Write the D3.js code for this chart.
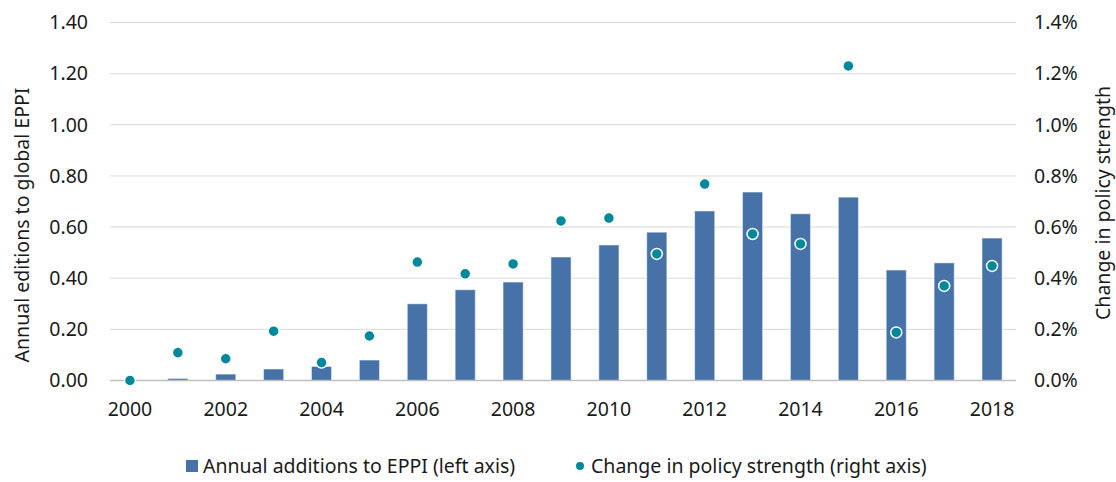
<!DOCTYPE html>
<html>
<head>
<meta charset="utf-8">
<script src="https://cdn.jsdelivr.net/npm/d3@7"></script>
<style>
  body { margin: 0; background: #fff; }
  text { font-family: "Noto Sans", "Open Sans", sans-serif; fill: #1a1a1a; }
</style>
</head>
<body>
<div id="chart"></div>
<script>
// data
var years = d3.range(2000, 2019);
var additions = [0, 0.008, 0.025, 0.045, 0.055, 0.08, 0.30, 0.355, 0.385, 0.483, 0.53, 0.58, 0.663, 0.737, 0.652, 0.717, 0.432, 0.46, 0.557];
var strength = [0.0, 0.109, 0.085, 0.193, 0.07, 0.174, 0.463, 0.417, 0.456, 0.624, 0.635, 0.495, 0.768, 0.573, 0.534, 1.23, 0.188, 0.37, 0.448];
var leftTicks = [0, 0.2, 0.4, 0.6, 0.8, 1.0, 1.2, 1.4];
var rightTicks = [0, 0.2, 0.4, 0.6, 0.8, 1.0, 1.2, 1.4];
var labelYears = [2000, 2002, 2004, 2006, 2008, 2010, 2012, 2014, 2016, 2018];

var W = 1116, H = 482;
var fs = "19.5px";
var margin = { top: 22.5, right: 100, bottom: 101.5, left: 106 },
    width = W - margin.left - margin.right,
    height = H - margin.top - margin.bottom;

var svg = d3.select("#chart")
    .append("svg")
    .attr("width", W)
    .attr("height", H);

var g = svg.append("g")
    .attr("transform", `translate(${margin.left},${margin.top})`);

var x = d3.scaleBand()
    .domain(years)
    .range([0, width])
    .paddingInner(0.58)
    .paddingOuter(0.29);

var y = d3.scaleLinear().domain([0, 1.4]).range([height, 0]);
var y2 = d3.scaleLinear().domain([0, 1.4]).range([height, 0]);

// gridlines
g.append("g")
    .selectAll("line")
    .data(leftTicks.slice(1))
    .enter()
    .append("line")
    .attr("x1", 4)
    .attr("x2", width)
    .attr("y1", function (d) { return y(d); })
    .attr("y2", function (d) { return y(d); })
    .attr("stroke", "#d9d9d9")
    .attr("stroke-width", 1);

// left axis
var yAxis = g.append("g")
    .call(d3.axisLeft(y).tickValues(leftTicks).tickSize(0).tickPadding(18)
        .tickFormat(d3.format(".2f")));
yAxis.select(".domain").remove();
yAxis.selectAll("text").style("font-size", fs).attr("fill", "#1a1a1a");

// right axis
var yAxis2 = g.append("g")
    .attr("transform", `translate(${width},0)`)
    .call(d3.axisRight(y2).tickValues(rightTicks).tickSize(0).tickPadding(18)
        .tickFormat(function (d) { return d.toFixed(1) + "%"; }));
yAxis2.select(".domain").remove();
yAxis2.selectAll("text").style("font-size", fs).attr("fill", "#1a1a1a");

// bars
g.append("g")
    .selectAll("rect")
    .data(years)
    .enter()
    .append("rect")
    .attr("x", function (d) { return x(d); })
    .attr("width", x.bandwidth())
    .attr("y", function (d, i) { return y(additions[i]); })
    .attr("height", function (d, i) { return height - y(additions[i]); })
    .attr("fill", "#4672a8")
    .attr("stroke", "#ffffff")
    .attr("stroke-opacity", 0.5)
    .attr("stroke-width", 1);

// x axis line
g.append("line")
    .attr("x1", 4)
    .attr("x2", width)
    .attr("y1", height)
    .attr("y2", height)
    .attr("stroke", "#bfbfbf")
    .attr("stroke-width", 1.5);

// x labels
g.append("g")
    .selectAll("text")
    .data(labelYears)
    .enter()
    .append("text")
    .attr("x", function (d) { return x(d) + x.bandwidth() / 2; })
    .attr("y", height + 35)
    .attr("text-anchor", "middle")
    .style("font-size", fs)
    .text(function (d) { return d; });

// dots
g.append("g")
    .selectAll("circle")
    .data(years)
    .enter()
    .append("circle")
    .attr("cx", function (d) { return x(d) + x.bandwidth() / 2; })
    .attr("cy", function (d, i) { return y2(strength[i]); })
    .attr("r", 5.5)
    .attr("fill", "#00889b")
    .attr("stroke", "#ffffff")
    .attr("stroke-width", 1.5);

// axis titles
svg.append("text")
    .attr("transform", "translate(22,225) rotate(-90)")
    .attr("text-anchor", "middle")
    .attr("dy", "0.35em")
    .style("font-size", fs)
    .text("Annual editions to global EPPI");

svg.append("text")
    .attr("transform", "translate(1103,203) rotate(-90)")
    .attr("text-anchor", "middle")
    .attr("dy", "0.35em")
    .style("font-size", fs)
    .text("Change in policy strength");

// legend
var leg = svg.append("g").attr("transform", "translate(0,466)");
leg.append("rect")
    .attr("x", 186).attr("y", -6).attr("width", 12).attr("height", 12)
    .attr("fill", "#4672a8");
leg.append("text")
    .attr("x", 203).attr("dy", "0.35em")
    .style("font-size", fs)
    .text("Annual additions to EPPI (left axis)");
leg.append("circle")
    .attr("cx", 580).attr("cy", 0).attr("r", 4)
    .attr("fill", "#00889b");
leg.append("text")
    .attr("x", 591).attr("dy", "0.35em")
    .style("font-size", fs)
    .text("Change in policy strength (right axis)");
</script>
</body>
</html>
